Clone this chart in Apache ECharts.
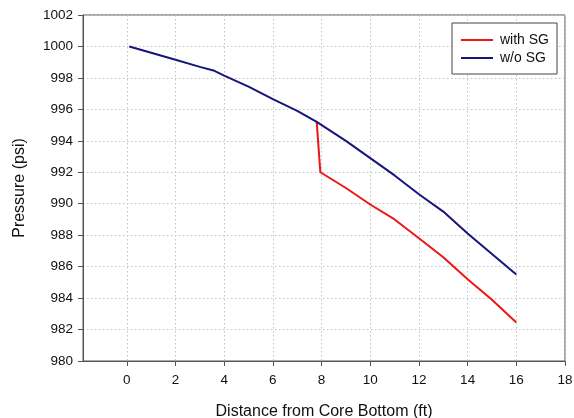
<!DOCTYPE html>
<html><head><meta charset="utf-8">
<script src="https://cdn.jsdelivr.net/npm/echarts@6/dist/echarts.min.js"></script>
<style>html,body{margin:0;padding:0;background:#fff}#c{width:574px;height:418px}</style>
</head><body><div id="c"></div>
<script>
const xTicks = [0, 2, 4, 6, 8, 10, 12, 14, 16, 18];
const withSG_x = [7.8, 7.95, 9, 10, 11, 12, 13, 14, 15, 16];
const withSG_y = [995.2, 992.0, 991.0, 989.95, 989.0, 987.8, 986.6, 985.2, 983.9, 982.45];
const woSG_x = [0.1, 1, 2, 3, 3.6, 4, 5, 6, 7, 7.8, 9, 10, 11, 12, 13, 14, 15, 16];
const woSG_y = [1000, 999.6, 999.15, 998.7, 998.45, 998.15, 997.45, 996.65, 995.9, 995.2, 994.0, 992.9, 991.8, 990.6, 989.5, 988.1, 986.8, 985.5];

const zip = (xs, ys) => xs.map((x, i) => [x, ys[i]]);
const font = 'Liberation Sans, Arial, sans-serif';
const gridLine = { show: true, lineStyle: { color: '#c4c4c4', type: [1.5, 2.5], width: 1 } };
const chart = echarts.init(document.getElementById('c'));
chart.setOption({
  animation: false,
  grid: { left: 83, right: 9, top: 15, bottom: 57, show: true, borderColor: '#555', borderWidth: 1,
          containLabel: false, outerBoundsMode: 'none' },
  legend: {
    orient: 'vertical', left: 452, top: 23,
    padding: [10, 8, 9, 9], itemGap: 4,
    borderColor: '#444', borderWidth: 1, backgroundColor: '#fff',
    icon: 'rect', itemWidth: 32, itemHeight: 2,
    textStyle: { fontFamily: font, fontSize: 14, color: '#111', padding: [0, 0, 0, 2] },
    data: [{ name: 'with SG' }, { name: 'w/o SG' }]
  },
  xAxis: {
    type: 'value', min: -1.8, max: 18,
    name: 'Distance from Core Bottom (ft)', nameLocation: 'middle', nameGap: 43,
    nameTextStyle: { fontFamily: font, fontSize: 16, color: '#111' },
    axisLine: { onZero: false, lineStyle: { color: '#555', width: 1 } },
    axisTick: { show: true, length: 5, lineStyle: { color: '#555' }, customValues: xTicks },
    axisLabel: { fontFamily: font, fontSize: 13.5, color: '#111', margin: 12, customValues: xTicks },
    splitLine: gridLine
  },
  yAxis: {
    type: 'value', min: 980, max: 1002, interval: 2,
    name: 'Pressure (psi)', nameLocation: 'middle', nameGap: 55,
    nameTextStyle: { fontFamily: font, fontSize: 16, color: '#111' },
    axisLine: { show: true, onZero: false, lineStyle: { color: '#555', width: 1 } },
    axisTick: { show: true, length: 5, lineStyle: { color: '#555' } },
    axisLabel: { fontFamily: font, fontSize: 13.5, color: '#111', margin: 10, formatter: v => String(v) },
    splitLine: gridLine
  },
  series: [
    { name: 'with SG', type: 'line', data: zip(withSG_x, withSG_y), symbol: 'none', smooth: false,
      lineStyle: { color: '#ee1515', width: 2 }, itemStyle: { color: '#ee1515' } },
    { name: 'w/o SG', type: 'line', data: zip(woSG_x, woSG_y), symbol: 'none', smooth: false,
      lineStyle: { color: '#15157a', width: 2 }, itemStyle: { color: '#15157a' } }
  ]
});
</script></body></html>
